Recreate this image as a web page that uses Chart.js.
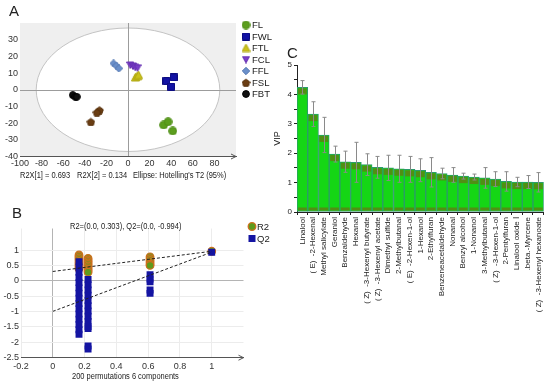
<!DOCTYPE html>
<html><head><meta charset="utf-8">
<script src="https://cdn.jsdelivr.net/npm/chart.js@4/dist/chart.umd.min.js"></script>
<style>
body{margin:0;width:550px;height:385px;background:#fff;position:relative;overflow:hidden;font-family:"Liberation Sans",Arial,sans-serif;}
canvas{position:absolute;}
.t{position:absolute;white-space:nowrap;color:#222;line-height:1;}
.n{font-size:8.5px;transform-origin:0 50%;transform:scaleX(0.88);}
</style></head><body>
<canvas id="ca" width="285" height="185" style="left:0;top:0"></canvas>
<canvas id="cb" width="285" height="190" style="left:0;top:195px"></canvas>
<canvas id="cc" width="280" height="345" style="left:270px;top:40px"></canvas>
<div class="t" style="left:9px;top:3px;font-size:15px">A</div>
<div class="t" style="left:12px;top:205px;font-size:15px">B</div>
<div class="t" style="left:287px;top:45px;font-size:15px">C</div>
<div class="t n" id="fa1" style="left:20px;top:171px"></div>
<div class="t n" id="fa2" style="left:77px;top:171px"></div>
<div class="t n" id="fa3" style="left:133px;top:171px"></div>
<div class="t n" id="tb" style="left:70px;top:221.5px"></div>
<div class="t n" id="fb" style="left:72px;top:372px"></div>
<script>
// ---------------- Panel A data (PCA scores) ----------------
const aGroups = ['FL','FWL','FTL','FCL','FFL','FSL','FBT'];
const aFL  = [[33.0,-21.1],[37.1,-19.2],[41.4,-24.7]];
const aFWL = [[35.6,5.2],[42.3,7.4],[39.9,1.8]];
const aFTL = [[6.8,7.4],[8.4,8.2],[9.8,8.8]];
const aFCL = [[2.1,14.8],[4.6,14.2],[6.8,13.4],[8.9,13.2]];
const aFFL = [[-13.4,15.8],[-10.9,14.4],[-8.4,12.8]];
const aFSL = [[-26.4,-12.2],[-28.8,-13.5],[-34.4,-19.2]];
const aFBT = [[-51.1,-3.2],[-48.9,-4.2],[-47.4,-4.2]];
const aXTicks = [-100,-80,-60,-40,-20,0,20,40,60,80];
const aYTicks = [-40,-30,-20,-10,0,10,20,30];
const aEllipse = [85,37];
const aFooter = ['R2X[1] = 0.693','R2X[2] = 0.134',"Ellipse: Hotelling's T2 (95%)"];

// ---------------- Panel B data (permutation test) ----------------
const bR2 = [[0.165,0.84],[0.165,0.79],[0.165,0.74],[0.165,0.69],[0.165,0.63],[0.165,0.57],[0.165,0.51],[0.165,0.45],[0.165,0.39],
             [0.222,0.73],[0.222,0.68],[0.222,0.63],[0.222,0.58],[0.222,0.53],[0.222,0.48],[0.222,0.43],[0.222,0.38],[0.222,0.33],[0.222,0.28],
             [0.612,0.78],[0.612,0.72],[0.612,0.66],[0.612,0.6],[0.612,0.54],[0.612,0.5],
             [1,0.96]];
const bQ2 = [[0.165,0.62],[0.165,0.45],[0.165,0.28],[0.165,0.11],[0.165,-0.06],[0.165,-0.23],[0.165,-0.4],[0.165,-0.57],[0.165,-0.74],[0.165,-0.91],[0.165,-1.08],[0.165,-1.25],[0.165,-1.42],[0.165,-1.59],[0.165,-1.74],
             [0.222,0.04],[0.222,-0.13],[0.222,-0.3],[0.222,-0.47],[0.222,-0.64],[0.222,-0.81],[0.222,-0.98],[0.222,-1.15],[0.222,-1.32],[0.222,-1.49],[0.222,-1.55],[0.222,-2.12],[0.222,-2.22],
             [0.612,0.2],[0.612,0.06],[0.612,-0.03],[0.612,-0.3],[0.612,-0.41],
             [1,0.93]];
const bR2Line = [[0,0.303],[1,0.96]];
const bQ2Line = [[0,-0.994],[1,0.93]];
const bXTicks = [-0.2,0,0.2,0.4,0.6,0.8,1];
const bYTicks = [-2.5,-2,-1.5,-1,-0.5,0,0.5,1];
const bTitle = 'R2=(0.0, 0.303), Q2=(0.0, -0.994)';
const bFooter = '200 permutations 6 components';

// ---------------- Panel C data (VIP) ----------------
const cNames = ['Linalool','( E)  -2-Hexenal','Methyl salicylate','Geraniol','Benzaldehyde','Hexanal',
  '( Z)  -3-Hexenyl butyrate','( Z)  -3-Hexenyl acetate','Dimethyl sulfide','2-Methylbutanal','( E)  -2-Hexen-1-ol',
  '1-Hexanol','2-Ethylfuran','Benzeneacetaldehyde','Nonanal','Benzyl alcohol','1-Nonanol','3-Methylbutanal',
  '( Z)  -3-Hexen-1-ol','2-Pentylfuran','Linalool oxide \u2160','.beta.-Myrcene','( Z)  -3-Hexenyl hexanoate'];
const cVIP = [4.24,3.33,2.62,1.97,1.71,1.69,1.61,1.52,1.50,1.47,1.45,1.42,1.35,1.31,1.26,1.22,1.19,1.16,1.12,1.04,1.02,1.02,1.01];
const cErr = [0.23,0.42,0.60,0.27,0.36,0.68,0.37,0.37,0.43,0.46,0.44,0.39,0.50,0.18,0.25,0.10,0.10,0.35,0.25,0.33,0.16,0.22,0.33];
const cYTicks = [0,0.5,1,1.5,2,2.5,3,3.5,4,4.5,5];

// ---------------- common ----------------
Chart.defaults.font.family = "'Liberation Sans', Arial, sans-serif";
Chart.defaults.color = '#222';
Chart.defaults.animation = false;
Chart.defaults.plugins.legend.display = false;
Chart.defaults.plugins.tooltip.enabled = false;

function mk(shape, d, fill, stroke, lw) {
  const c = document.createElement('canvas'); c.width = d; c.height = d;
  const g = c.getContext('2d'); const h = d / 2;
  g.beginPath();
  if (shape === 'circle') g.arc(h, h, h - 0.6, 0, Math.PI * 2);
  else if (shape === 'square') g.rect(0.5, 0.5, d - 1, d - 1);
  else if (shape === 'tri') { g.moveTo(h, 0.5); g.lineTo(d - 0.5, d - 1); g.lineTo(0.5, d - 1); g.closePath(); }
  else if (shape === 'tridown') { g.moveTo(0.5, 1); g.lineTo(d - 0.5, 1); g.lineTo(h, d - 0.5); g.closePath(); }
  else if (shape === 'diamond') { g.moveTo(h, 0.3); g.lineTo(d - 0.3, h); g.lineTo(h, d - 0.3); g.lineTo(0.3, h); g.closePath(); }
  else if (shape === 'pent') {
    for (let i = 0; i < 5; i++) { const a = -Math.PI / 2 + i * 2 * Math.PI / 5;
      const px = h + (h - 0.5) * Math.cos(a), py = h + 0.6 + (h - 0.6) * Math.sin(a);
      if (i) g.lineTo(px, py); else g.moveTo(px, py); }
    g.closePath();
  }
  g.fillStyle = fill; g.fill();
  if (stroke) { g.strokeStyle = stroke; g.lineWidth = lw || 1; g.stroke(); }
  return c;
}

const aData = {FL:aFL, FWL:aFWL, FTL:aFTL, FCL:aFCL, FFL:aFFL, FSL:aFSL, FBT:aFBT};
const aMark = {
  FL: mk('circle', 9, '#5c9e1e', '#4f8c17'),
  FWL: mk('square', 8, '#1212a4', '#0c0c80'),
  FTL: mk('tri', 9, '#cbc21c', '#b0a810'),
  FCL: mk('tridown', 8, '#7a3ec9', '#6530b0'),
  FFL: mk('diamond', 8, '#6a8fca', '#5577b0'),
  FSL: mk('pent', 9, '#6a3d12', '#55300c'),
  FBT: mk('circle', 8, '#111', '#000')
};

const plotA = {
  id: 'plotA',
  beforeDraw(ch) {
    const {ctx, chartArea: a, scales: {x, y}} = ch;
    ctx.save();
    ctx.fillStyle = '#efefef';
    ctx.fillRect(a.left, a.top, a.right - a.left, a.bottom - a.top);
    const cx = x.getPixelForValue(0), cy = y.getPixelForValue(0);
    const rx = x.getPixelForValue(aEllipse[0]) - cx, ry = cy - y.getPixelForValue(aEllipse[1]);
    ctx.beginPath(); ctx.ellipse(cx, cy, rx, ry, 0, 0, Math.PI * 2);
    ctx.fillStyle = '#fff'; ctx.fill();
    ctx.strokeStyle = '#c4c4c4'; ctx.lineWidth = 1; ctx.stroke();
    ctx.strokeStyle = '#9c9c9c';
    ctx.beginPath();
    ctx.moveTo(a.left, Math.round(cy) + 0.5); ctx.lineTo(a.right, Math.round(cy) + 0.5);
    ctx.moveTo(Math.round(cx) + 0.5, a.top); ctx.lineTo(Math.round(cx) + 0.5, a.bottom);
    ctx.stroke();
    ctx.restore();
  },
  afterDraw(ch) {
    const {ctx, chartArea: a} = ch;
    ctx.save();
    ctx.strokeStyle = '#555'; ctx.lineWidth = 1;
    ctx.beginPath(); ctx.moveTo(a.right - 5, a.bottom - 2.5); ctx.lineTo(a.right, a.bottom); ctx.lineTo(a.right - 5, a.bottom + 2.5); ctx.stroke();
    ctx.font = "9.5px 'Liberation Sans', Arial, sans-serif";
    ctx.fillStyle = '#222'; ctx.textBaseline = 'middle';
    aGroups.forEach((g, i) => {
      const yy = 25 + i * 11.5, m = aMark[g];
      ctx.drawImage(m, 246 - m.width / 2, yy - m.height / 2);
      ctx.fillText(g, 252, yy + 0.5);
    });
    ctx.restore();
  }
};

new Chart(document.getElementById('ca'), {
  type: 'scatter',
  data: { datasets: aGroups.map(g => ({
    label: g, data: aData[g].map(p => ({x: p[0], y: p[1]})),
    pointStyle: aMark[g], pointRadius: 5
  })) },
  options: {
    responsive: false, devicePixelRatio: 1,
    layout: { padding: { left: 0, right: 49, top: 23, bottom: 14.5 } },
    scales: {
      x: { type: 'linear', min: -100, max: 100,
        afterBuildTicks: s => { s.ticks = aXTicks.map(v => ({value: v})); },
        afterFit: s => { s.height = 14; },
        ticks: { callback: v => String(v), font: { size: 9 }, padding: 2, color: '#333', maxRotation: 0, autoSkip: false },
        grid: { display: false, drawTicks: false }, border: { display: true, color: '#555' } },
      y: { min: -40, max: 40,
        afterBuildTicks: s => { s.ticks = aYTicks.map(v => ({value: v})); },
        afterFit: s => { s.width = 20; },
        ticks: { callback: v => String(v), font: { size: 9 }, padding: 2, color: '#333', autoSkip: false },
        grid: { display: false, drawTicks: false }, border: { display: false } }
    }
  },
  plugins: [plotA]
});
document.getElementById('fa1').textContent = aFooter[0];
document.getElementById('fa2').textContent = aFooter[1];
document.getElementById('fa3').textContent = aFooter[2];

// ---------------- Panel B chart ----------------
const r2Fill = '#5e9a1c', r2Edge = '#cf6f1e', q2Fill = '#1414a2';
const plotB = {
  id: 'plotB',
  afterDraw(ch) {
    const {ctx, chartArea: a} = ch;
    ctx.save();
    ctx.strokeStyle = '#555'; ctx.lineWidth = 1;
    ctx.beginPath(); ctx.moveTo(a.right - 5, a.bottom - 2.5); ctx.lineTo(a.right, a.bottom); ctx.lineTo(a.right - 5, a.bottom + 2.5); ctx.stroke();
    ctx.font = "9.5px 'Liberation Sans', Arial, sans-serif";
    ctx.textBaseline = 'middle';
    ctx.beginPath(); ctx.arc(252, 31.5, 3.8, 0, Math.PI * 2); ctx.fillStyle = r2Fill; ctx.fill();
    ctx.strokeStyle = r2Edge; ctx.lineWidth = 1.3; ctx.stroke();
    ctx.fillStyle = q2Fill; ctx.fillRect(248.5, 40, 7, 7);
    ctx.fillStyle = '#222';
    ctx.fillText('R2', 257, 32); ctx.fillText('Q2', 257, 44);
    ctx.restore();
  }
};
new Chart(document.getElementById('cb'), {
  type: 'scatter',
  data: { datasets: [
    { label: 'R2', data: bR2.map(p => ({x: p[0], y: p[1]})), pointStyle: 'circle', pointRadius: 3.8,
      backgroundColor: r2Fill, borderColor: r2Edge, borderWidth: 1.2, order: 3 },
    { label: 'Q2', data: bQ2.map(p => ({x: p[0], y: p[1]})), pointStyle: 'rect', pointRadius: 4.9,
      backgroundColor: q2Fill, borderColor: q2Fill, borderWidth: 0, order: 2 },
    { type: 'line', label: 'R2 fit', data: bR2Line.map(p => ({x: p[0], y: p[1]})), borderColor: '#222',
      borderWidth: 1, borderDash: [3, 2], pointRadius: 0, order: 1 },
    { type: 'line', label: 'Q2 fit', data: bQ2Line.map(p => ({x: p[0], y: p[1]})), borderColor: '#222',
      borderWidth: 1, borderDash: [3, 2], pointRadius: 0, order: 0 }
  ] },
  options: {
    responsive: false, devicePixelRatio: 1,
    layout: { padding: { left: 0, right: 41.5, top: 33.5, bottom: 15.3 } },
    scales: {
      x: { type: 'linear', min: -0.2, max: 1.2,
        afterBuildTicks: s => { s.ticks = bXTicks.map(v => ({value: v})); },
        afterFit: s => { s.height = 12; },
        ticks: { callback: v => String(v), font: { size: 9 }, padding: 3, color: '#333', maxRotation: 0, autoSkip: false },
        grid: { drawTicks: false, color: c => (c.tick && c.tick.value === 0) ? '#b4b4b4' : '#ececec' },
        border: { display: true, color: '#555' } },
      y: { min: -2.5, max: 1.7,
        afterBuildTicks: s => { s.ticks = bYTicks.map(v => ({value: v})); },
        afterFit: s => { s.width = 21; },
        ticks: { callback: v => String(v), font: { size: 9 }, padding: 2, color: '#333', autoSkip: false },
        grid: { drawTicks: false, color: c => (c.tick && c.tick.value === 0) ? '#b4b4b4' : '#ececec' },
        border: { display: false } }
    }
  },
  plugins: [plotB]
});
document.getElementById('tb').textContent = bTitle;
document.getElementById('fb').textContent = bFooter;

// ---------------- Panel C chart ----------------
const errC = {
  id: 'errC',
  afterDatasetsDraw(ch) {
    const {ctx, scales: {y}} = ch;
    const meta = ch.getDatasetMeta(0);
    ctx.save();
    meta.data.forEach((el, i) => {
      const w = el.width;
      ctx.fillStyle = 'rgba(90,130,20,0.85)';
      ctx.fillRect(el.x - w / 2 + 1, el.y + 1, w - 2, 6);
      ctx.fillRect(el.x - w / 2 + 1, el.base - 4, w - 2, 3);
    });
    ctx.strokeStyle = '#8a8a8a'; ctx.lineWidth = 1;
    meta.data.forEach((el, i) => {
      const x = Math.round(el.x) + 0.5;
      const t = y.getPixelForValue(cVIP[i] + cErr[i]);
      const b = y.getPixelForValue(cVIP[i] - cErr[i]);
      ctx.beginPath();
      ctx.moveTo(x, t); ctx.lineTo(x, b);
      ctx.moveTo(x - 2, t); ctx.lineTo(x + 2, t);
      ctx.moveTo(x - 2, b); ctx.lineTo(x + 2, b);
      ctx.stroke();
    });
    ctx.restore();
  }
};
new Chart(document.getElementById('cc'), {
  type: 'bar',
  data: { labels: cNames, datasets: [{ label: 'VIP', data: cVIP,
    backgroundColor: '#15d615', borderColor: '#2c9a6c', borderWidth: 1, borderSkipped: false,
    barPercentage: 1, categoryPercentage: 1 }] },
  options: {
    responsive: false, devicePixelRatio: 1,
    layout: { padding: { left: 0, right: 3, top: 25, bottom: 0 } },
    scales: {
      x: { afterFit: s => { s.height = 173; },
        ticks: { font: { size: 8 }, color: '#222', minRotation: 90, maxRotation: 90, autoSkip: false, padding: 2 },
        grid: { display: true, drawOnChartArea: false, tickLength: 3, color: '#222' },
        border: { display: true, color: '#222' } },
      y: { min: 0, max: 5,
        afterBuildTicks: s => { s.ticks = cYTicks.map(v => ({value: v})); },
        afterFit: s => { s.width = 27; },
        ticks: { callback: v => Number.isInteger(v) ? String(v) : '', font: { size: 8 }, color: '#222', padding: 2, autoSkip: false },
        grid: { display: true, drawOnChartArea: false, tickLength: 3, color: '#222' },
        border: { display: true, color: '#222' },
        title: { display: true, text: 'VIP', font: { size: 9 }, color: '#222', padding: { top: 2, bottom: 2 } } }
    }
  },
  plugins: [errC]
});
</script>
</body></html>
